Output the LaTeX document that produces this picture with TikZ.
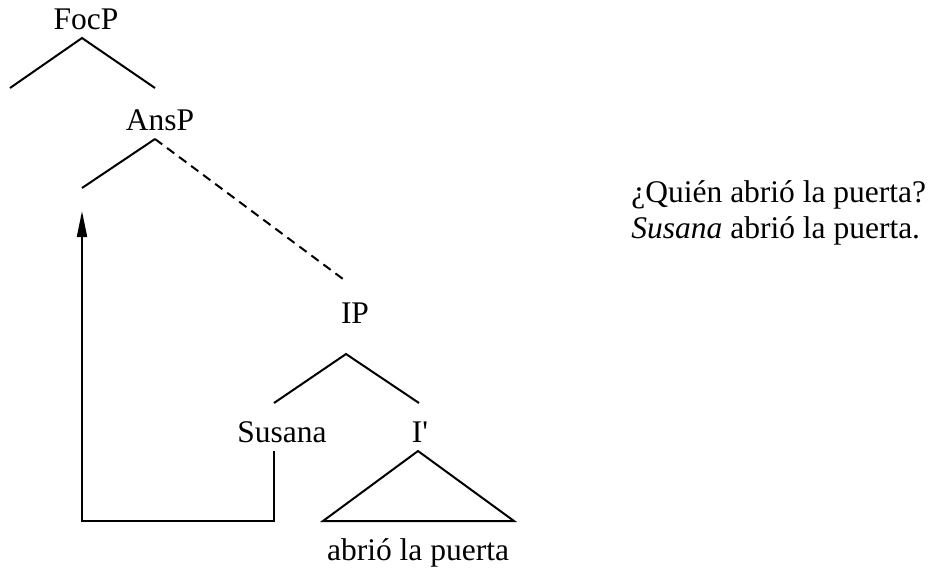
\documentclass[tikz,border=0pt]{standalone}
\usepackage{fontspec}
\setmainfont{Liberation Serif}
\usetikzlibrary{arrows.meta}
\begin{document}
\begin{tikzpicture}[x=0.5pt,y=-0.5pt,
  lbl/.style={anchor=base,inner sep=0pt,font=\fontsize{15.75}{18}\selectfont},
  branch/.style={line width=1pt},
  dashbranch/.style={line width=1pt,dash pattern=on 4.5pt off 3pt},
  move/.style={line width=1pt,-{Triangle[length=13pt,width=5pt]}}]
\useasboundingbox (0,0) rectangle (935,575);
% labels
\node[lbl] (focp) at (86,29) {FocP};
\node[lbl] (ansp) at (160,130) {AnsP};
\node[lbl] (ip) at (355,323) {IP};
\node[lbl] (susana) at (282,442) {Susana};
\node[lbl] (ibar) at (420,442) {I\textquotesingle};
\node[lbl] (vp) at (418,560) {abrió la puerta};
\node[lbl,anchor=base west] (q) at (631,202) {¿Quién abrió la puerta?};
\node[lbl,anchor=base west] (a) at (631,238) {\textit{Susana} abrió la puerta.};
% coordinates
\coordinate (fa) at (82,38);
\coordinate (fl) at (10,88);
\coordinate (fr) at (155,88);
\coordinate (aa) at (155,139);
\coordinate (al) at (82,188);
\coordinate (ar) at (347,282);
\coordinate (ia) at (346,354);
\coordinate (il) at (274,403);
\coordinate (ir) at (419,403);
\coordinate (ta) at (418,451);
\coordinate (tl) at (323,521);
\coordinate (tr) at (514,521);
\coordinate (ms) at (274,451);
\coordinate (mb) at (274,521);
\coordinate (mc) at (82,521);
\coordinate (mt) at (82,211);
% branches
\draw[branch] (fl) -- (fa) -- (fr);
\draw[branch] (al) -- (aa);
\draw[dashbranch] (aa) -- (ar);
\draw[branch] (il) -- (ia) -- (ir);
\draw[branch] (ta) -- (tl) -- (tr) -- cycle;
\draw[move] (ms) -- (mb) -- (mc) -- (mt);
\end{tikzpicture}
\end{document}
